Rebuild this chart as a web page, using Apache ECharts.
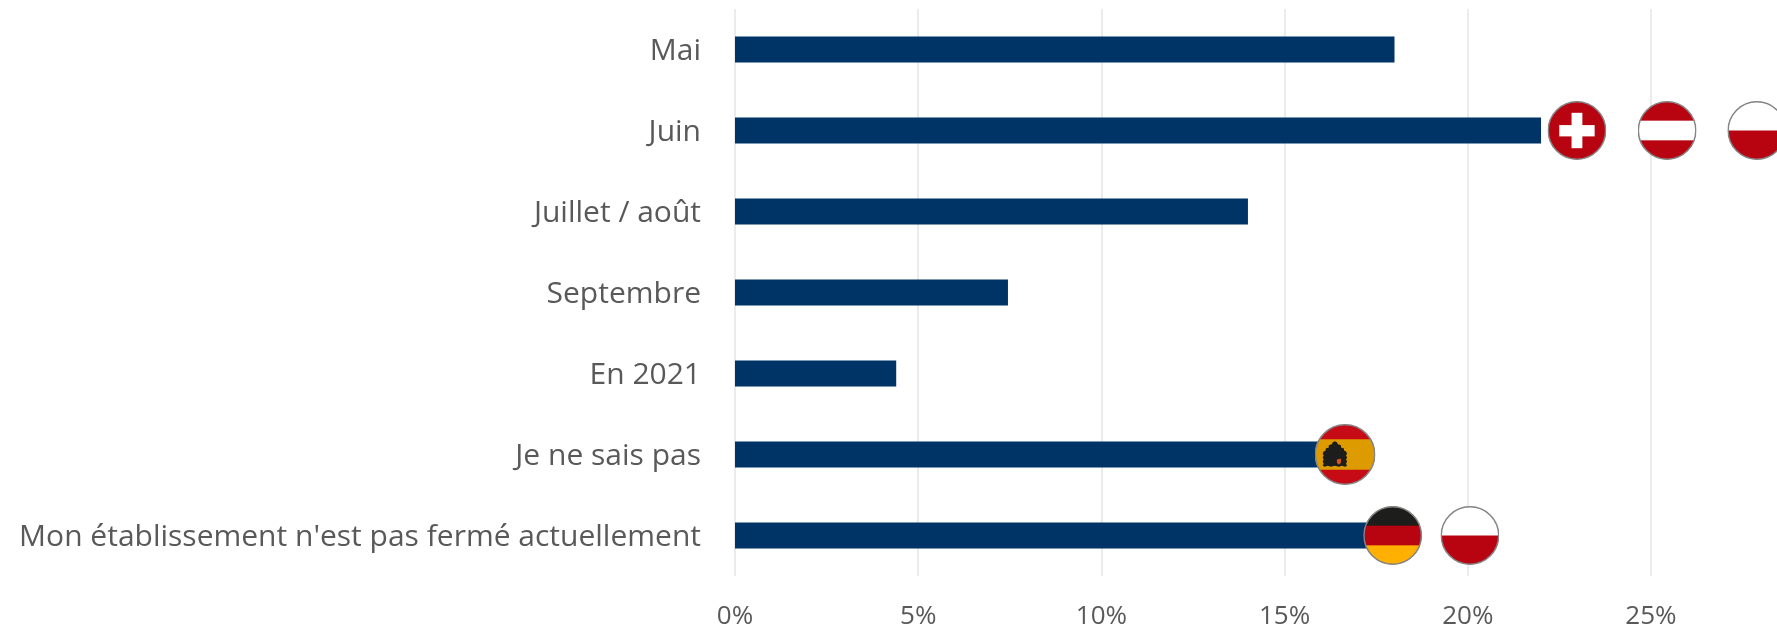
<!DOCTYPE html>
<html>
<head>
<meta charset="utf-8">
<style>
  html, body { margin: 0; padding: 0; background: #fff; }
  #chart { width: 1777px; height: 630px; }
</style>
<script src="https://cdn.jsdelivr.net/npm/echarts@6/dist/echarts.min.js"></script>
</head>
<body>
<div id="chart"></div>
<script>
  const categories = ['Mai', 'Juin', 'Juillet / août', 'Septembre', 'En 2021', 'Je ne sais pas', "Mon établissement n'est pas fermé actuellement"];
  const values = [18, 22, 14, 7.45, 4.4, 16.65, 18];
  // flags sitting on the bars
  const flagCodes = ['ch', 'at', 'pl', 'es', 'de', 'pl'];
  const flagValues = [22.98, 25.44, 27.89, 16.65, 17.95, 20.06];
  const flagCategories = ['Juin', 'Juin', 'Juin', 'Je ne sais pas', "Mon établissement n'est pas fermé actuellement", "Mon établissement n'est pas fermé actuellement"];

  const RED = '#b70410';
  // stripes overlap on purpose, otherwise the bar shows through the seams
  const flagBodies = {
    ch: `<rect width="60" height="60" fill="${RED}"/><rect x="24.5" y="12" width="11" height="36" fill="#fff"/><rect x="12" y="24.5" width="36" height="11.5" fill="#fff"/>`,
    at: `<rect width="60" height="60" fill="${RED}"/><rect y="20" width="60" height="20" fill="#fff"/>`,
    pl: `<rect width="60" height="60" fill="${RED}"/><rect width="60" height="30" fill="#fff"/>`,
    de: `<rect width="60" height="60" fill="${RED}"/><rect width="60" height="20" fill="#1d1d1b"/><rect y="40" width="60" height="20" fill="#ffb000"/>`,
    es: `<rect width="60" height="60" fill="#c60b16"/><rect y="15" width="60" height="30" fill="#dd9b00"/>` +
        `<path d="M8 41 L9 39 L8 37 L9 35 L8 33 L9 31 L8 29 L9 27 L11 26 L11 24 L14 23 L14 21 L17 20 L18 18 L20 17 L22 18 L23 20 L26 21 L26 23 L29 24 L29 26 L31 27 L32 29 L31 31 L32 33 L31 35 L32 37 L31 39 L32 41 L30 42 L27 41 L24 42 L20 41 L16 42 L13 41 L10 42 Z" fill="#1d1d1b"/>` +
        `<path d="M22 35 L26 34 L26 38 L24 40 L22 38 Z" fill="#d8541a"/>`
  };

  function flagSymbol (code) {
    const svg = `<svg xmlns="http://www.w3.org/2000/svg" width="120" height="120" viewBox="0 0 60 60">` +
      `<defs><clipPath id="c"><circle cx="30" cy="30" r="29.5"/></clipPath></defs>` +
      `<g clip-path="url(#c)">${flagBodies[code]}</g>` +
      `<circle cx="30" cy="30" r="29.2" fill="none" stroke="#858585" stroke-width="1.5"/></svg>`;
    return 'image://data:image/svg+xml;charset=utf-8,' + encodeURIComponent(svg);
  }

  const FONT = '"Open Sans", sans-serif';
  const chart = echarts.init(document.getElementById('chart'), null, { renderer: 'canvas' });
  chart.setOption({
    animation: false,
    backgroundColor: '#fff',
    grid: { left: 735, right: 0, top: 9, bottom: 54 },
    xAxis: {
      type: 'value',
      min: 0,
      max: 28.44,
      interval: 5,
      axisLine: { show: false },
      axisTick: { show: false },
      axisLabel: {
        color: '#595959',
        fontFamily: FONT,
        fontSize: 26,
        margin: 28,
        showMaxLabel: false,
        formatter: '{value}%'
      },
      splitLine: {
        showMaxLine: false,
        lineStyle: { color: '#ebebeb', width: 2 }
      }
    },
    yAxis: {
      type: 'category',
      inverse: true,
      data: categories,
      axisLine: { show: false },
      axisTick: { show: false },
      axisLabel: {
        color: '#595959',
        fontFamily: FONT,
        fontSize: 30,
        margin: 34,
        verticalAlign: 'top',
        lineHeight: 4
      }
    },
    series: [
      {
        type: 'bar',
        data: values,
        barWidth: 26,
        itemStyle: { color: '#003366' }
      },
      {
        type: 'scatter',
        clip: false,
        z: 5,
        itemStyle: { opacity: 1 },
        data: flagCodes.map((code, i) => ({
          value: [flagValues[i], flagCategories[i]],
          symbol: flagSymbol(code),
          symbolSize: code === 'es' ? 61 : 59
        }))
      }
    ]
  });
</script>
</body>
</html>
